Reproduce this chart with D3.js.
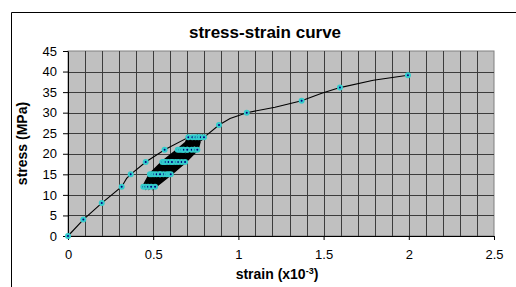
<!DOCTYPE html>
<html>
<head>
<meta charset="utf-8">
<script src="https://cdn.jsdelivr.net/npm/d3@7"></script>
<style>
  body { margin: 0; background: #fff; }
  svg { display: block; font-family: Arial, 'Liberation Sans', sans-serif; }
</style>
</head>
<body>
<div id="chart"></div>
<script>
// tick labels
const strainTicks = [0, 0.5, 1, 1.5, 2, 2.5];
const strainLabels = ['0', '0.5', '1', '1.5', '2', '2.5'];
const stressTicks = [0, 5, 10, 15, 20, 25, 30, 35, 40, 45];

// first loading up to 24 MPa
const loadStrain = [0, 0.09, 0.198, 0.315, 0.344, 0.368, 0.456, 0.567, 0.706];
const loadStress = [0, 4, 8, 12, 14, 15, 18, 21, 24];
const loadMarked = [1, 1, 1, 1, 0, 1, 1, 1, 1];

// cycles between 24 and 12 MPa
const cycleStrain = [
  0.676, 0.610, 0.540, 0.442, 0.481, 0.554, 0.644, 0.730,
  0.700, 0.630, 0.560, 0.455, 0.492, 0.565, 0.655, 0.749,
  0.726, 0.647, 0.579, 0.470, 0.505, 0.573, 0.667, 0.765,
  0.745, 0.667, 0.592, 0.488, 0.520, 0.590, 0.680, 0.779,
  0.759, 0.687, 0.603, 0.511, 0.540, 0.610, 0.700, 0.798
];
const cycleStress = [
  21, 18, 15, 12, 15, 18, 21, 24,
  21, 18, 15, 12, 15, 18, 21, 24,
  21, 18, 15, 12, 15, 18, 21, 24,
  21, 18, 15, 12, 15, 18, 21, 24,
  21, 18, 15, 12, 15, 18, 21, 24
];

// loading after the cycles
const upperStrain = [0.886, 0.951, 1.049, 1.215, 1.371, 1.489, 1.596, 1.792, 1.995];
const upperStress = [27, 28.6, 30, 31.3, 32.9, 34.7, 36.1, 37.9, 39.1];
const upperMarked = [1, 0, 1, 0, 1, 0, 1, 0, 1];

const width = 516, height = 287;
const plotLeft = 68, plotRight = 494, plotTop = 51, plotBottom = 236;

const svg = d3.select('#chart').append('svg')
    .attr('width', width)
    .attr('height', height);

const x = d3.scaleLinear().domain([0, 2.5]).range([plotLeft, plotRight]);
const y = d3.scaleLinear().domain([0, 45]).range([plotBottom, plotTop]);

// outer chart frame (only top and left visible)
svg.append('path')
    .attr('d', `M11.5,${height} V12.5 H${width}`)
    .attr('fill', 'none')
    .attr('stroke', '#000')
    .attr('stroke-width', 1);

// plot background
svg.append('rect')
    .attr('x', plotLeft).attr('y', plotTop)
    .attr('width', plotRight - plotLeft).attr('height', plotBottom - plotTop)
    .attr('fill', '#c0c0c0')
    .attr('stroke', '#808080');

// grid
const grid = svg.append('g').attr('shape-rendering', 'crispEdges');
grid.selectAll('line.v').data(x.ticks(25).slice(1, -1)).enter()
    .append('line').attr('class', 'v')
    .attr('x1', d => Math.round(x(d)) + 0.5).attr('x2', d => Math.round(x(d)) + 0.5)
    .attr('y1', plotTop).attr('y2', plotBottom)
    .attr('stroke', '#3c3c3c');
grid.selectAll('line.h').data(stressTicks.slice(1, -1)).enter()
    .append('line').attr('class', 'h')
    .attr('y1', d => Math.round(y(d)) + 0.5).attr('y2', d => Math.round(y(d)) + 0.5)
    .attr('x1', plotLeft).attr('x2', plotRight)
    .attr('stroke', '#3c3c3c');

// axes
const yAxis = svg.append('g')
    .attr('transform', `translate(${plotLeft},0)`)
    .call(d3.axisLeft(y).tickValues(stressTicks).tickSize(5).tickPadding(6).tickSizeOuter(0));
const xAxis = svg.append('g')
    .attr('transform', `translate(0,${plotBottom})`)
    .call(d3.axisBottom(x).tickValues(strainTicks).tickFormat((d, i) => strainLabels[i])
        .tickSize(4).tickPadding(10).tickSizeOuter(0));
[yAxis, xAxis].forEach(g => {
    g.attr('font-family', null).attr('font-size', null);
    g.selectAll('text').style('font-size', '13px').style('fill', '#000');
    g.selectAll('line, path').attr('stroke', '#000');
});

// data
const curve = [];
loadStrain.forEach((s, i) => curve.push({ s, p: loadStress[i], m: loadMarked[i] }));
cycleStrain.forEach((s, i) => curve.push({ s, p: cycleStress[i], m: 1 }));
upperStrain.forEach((s, i) => curve.push({ s, p: upperStress[i], m: upperMarked[i] }));

const line = d3.line().x(d => x(d.s)).y(d => y(d.p));

// dense cycles drawn heavier
const cycleStart = loadStrain.length - 1;
const cycleEnd = cycleStart + cycleStrain.length;
svg.append('path')
    .datum(curve.slice(cycleStart, cycleEnd + 1))
    .attr('d', line)
    .attr('fill', 'none')
    .attr('stroke', '#000')
    .attr('stroke-width', 2.6);

svg.append('path')
    .datum(curve)
    .attr('d', line)
    .attr('fill', 'none')
    .attr('stroke', '#000')
    .attr('stroke-width', 1.1);

const marks = svg.append('g').selectAll('g')
    .data(curve.filter(d => d.m)).enter()
    .append('g')
    .attr('transform', d => `translate(${x(d.s)},${y(d.p)})`);
marks.append('circle').attr('r', 3).attr('fill', '#33cccc');
marks.append('circle').attr('r', 1).attr('fill', '#000080');

// titles
svg.append('text')
    .attr('x', 265).attr('y', 38)
    .attr('text-anchor', 'middle')
    .style('font-size', '17px').style('font-weight', 'bold')
    .text('stress-strain curve');

const xl = svg.append('text')
    .attr('x', 277).attr('y', 279)
    .attr('text-anchor', 'middle')
    .style('font-size', '14px').style('font-weight', 'bold');
xl.append('tspan').text('strain (x10');
xl.append('tspan').attr('dy', -5).style('font-size', '9px').text('-3');
xl.append('tspan').attr('dy', 5).text(')');

svg.append('text')
    .attr('transform', `translate(27,${(plotTop + plotBottom) / 2}) rotate(-90)`)
    .attr('text-anchor', 'middle')
    .style('font-size', '14px').style('font-weight', 'bold')
    .text('stress (MPa)');
</script>
</body>
</html>
